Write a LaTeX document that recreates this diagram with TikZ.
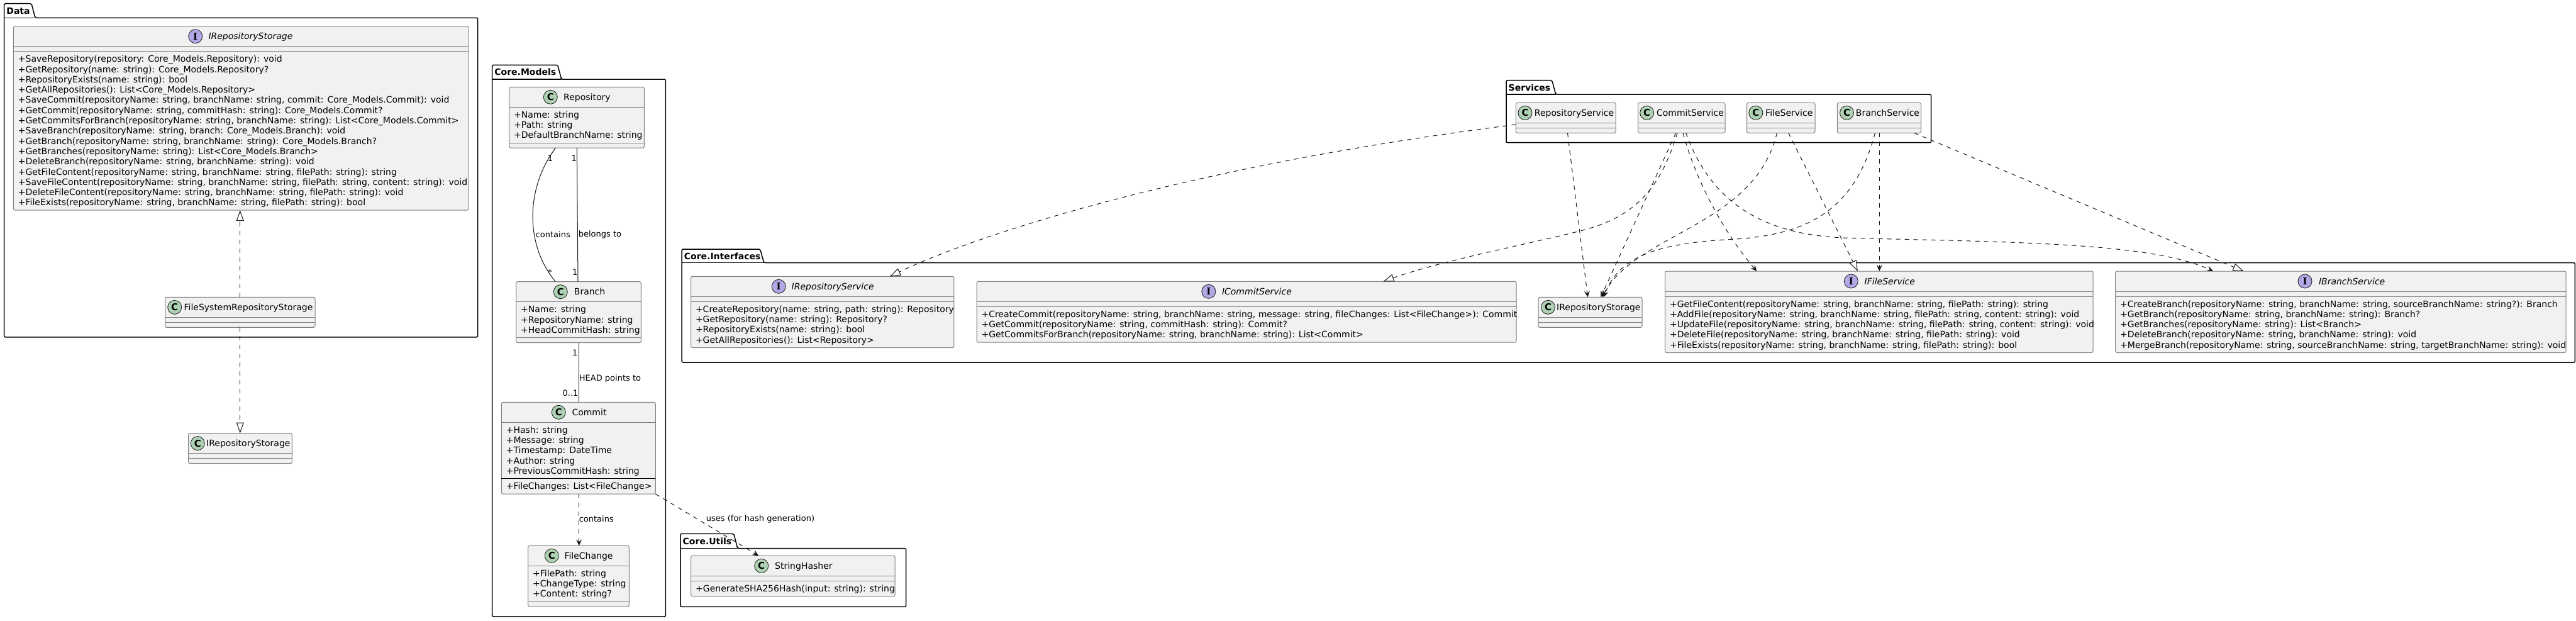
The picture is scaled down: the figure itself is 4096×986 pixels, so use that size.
\documentclass[tikz,border=0pt]{standalone}
\usepackage{fontspec}
\setmainfont{DejaVu Sans}
\newfontfamily\iconserif{DejaVu Serif}
\usetikzlibrary{arrows.meta}
\definecolor{boxfill}{HTML}{F1F1F1}
\definecolor{boxline}{HTML}{808080}
\definecolor{lc}{HTML}{181818}
\definecolor{cgreen}{HTML}{ADD1B2}
\definecolor{ipurple}{HTML}{B4A7E5}
\newcommand\memfont{\fontsize{14}{16.3}\selectfont}
\newcommand\lblfont{\fontsize{13}{15}\selectfont}
\newcommand\pkgfont{\fontsize{14}{16}\selectfont\bfseries}
\newcommand\ttlfont{\fontsize{14}{16}\selectfont}
\newcommand\cfont{\fontsize{15}{15}\selectfont\bfseries}
\newcommand\ifont{\fontsize{15}{15}\selectfont\iconserif\bfseries}
\tikzset{
  umlbox/.style={draw=boxline, fill=boxfill, line width=1pt, rounded corners=2.5pt, anchor=north west, inner sep=0pt, outer sep=0pt},
  sepline/.style={draw=boxline, line width=1pt},
  darksep/.style={draw=black, line width=1pt},
  pkgframe/.style={draw=black, line width=1.5pt, rounded corners=2pt},
  mem/.style={anchor=base west, inner sep=0pt, font=\memfont},
  ttl/.style={anchor=base west, inner sep=0pt, font=\ttlfont},
  cicon/.style={circle, draw=lc, fill=cgreen, minimum size=22pt, inner sep=0pt, line width=0.8pt, font=\cfont},
  iicon/.style={cicon, fill=ipurple, font=\ifont},
  dep/.style={draw=lc, line width=1pt, dash pattern=on 7pt off 7pt, -{Stealth[length=10pt,width=9pt,inset=4pt]}},
  real/.style={draw=lc, line width=1pt, dash pattern=on 7pt off 7pt, -{Triangle[open,length=17pt,width=12pt,fill=white]}},
  assoc/.style={draw=lc, line width=1pt},
  lbl/.style={font=\lblfont, inner sep=0pt, text=black},
  pkglbl/.style={font=\pkgfont, anchor=west, inner sep=0pt},
}
\newcommand\mkbox[5]{\node[umlbox, minimum width=#4pt, minimum height=#5pt] (#1) at (#2,#3) {};}
\newcommand\hsep[2]{\draw[sepline] ([yshift=-#2pt]#1.north west) -- ([yshift=-#2pt]#1.north east);}
\newcommand\ctitle[7]{\node[#2] (#1-ic) at (#4,#6) {#3};\node[ttl] (#1-tt) at (#5,{#6+5}) {#7};}
\newcommand\membs[4]{\foreach \mline [count=\mcount from 0] in {#4} {\node[mem] (#1-m\mcount) at (#2,{#3+16.3*\mcount}) {\mline};}}
\newcommand\pkg[8]{%
  \draw[pkgframe] (#1,#6) -- (#1,#2) -- ({#3-6},#2) -- (#3,#4) -- (#5,#4) -- (#5,#6) -- cycle;
  \draw[draw=black, line width=1.5pt] (#1,#4) -- (#3,#4);
  \node[pkglbl] (#8) at ({#1+3.5},{(#2+#4)/2}) {#7};}
\begin{document}
\begin{tikzpicture}[x=1pt,y=-1pt]
\useasboundingbox (0,0) rectangle (4096,986);
\fill[white] (0,0) rectangle (4096,986);

% ---------- packages
\pkg{6.7}{5.7}{56}{28.3}{759.7}{535.8}{Data}{pkData}
\pkg{782.7}{103.3}{892.7}{126}{1058.3}{980}{Core.Models}{pkModels}
\pkg{1082}{848.3}{1172.8}{871.7}{1440.6}{964.3}{Core.Utils}{pkUtils}
\pkg{2395}{127.7}{2473.7}{150}{3070.5}{226.7}{Services}{pkServices}
\pkg{1084.2}{396}{1214.7}{417.7}{4094.4}{576}{Core.Interfaces}{pkIfaces}

% ---------- Data
\mkbox{dirs}{21.4}{41.7}{723.6}{292.5}
\hsep{dirs}{32}\hsep{dirs}{40}
\ctitle{dirs}{iicon}{I}{310.7}{331.3}{57.7}{\itshape IRepositoryStorage}
\membs{dirs}{28.7}{98.7}{{+SaveRepository(repository: Core\_Models.Repository): void},
{+GetRepository(name: string): Core\_Models.Repository?},
{+RepositoryExists(name: string): bool},
{+GetAllRepositories(): List<Core\_Models.Repository>},
{+SaveCommit(repositoryName: string, branchName: string, commit: Core\_Models.Commit): void},
{+GetCommit(repositoryName: string, commitHash: string): Core\_Models.Commit?},
{+GetCommitsForBranch(repositoryName: string, branchName: string): List<Core\_Models.Commit>},
{+SaveBranch(repositoryName: string, branch: Core\_Models.Branch): void},
{+GetBranch(repositoryName: string, branchName: string): Core\_Models.Branch?},
{+GetBranches(repositoryName: string): List<Core\_Models.Branch>},
{+DeleteBranch(repositoryName: string, branchName: string): void},
{+GetFileContent(repositoryName: string, branchName: string, filePath: string): string},
{+SaveFileContent(repositoryName: string, branchName: string, filePath: string, content: string): void},
{+DeleteFileContent(repositoryName: string, branchName: string, filePath: string): void},
{+FileExists(repositoryName: string, branchName: string, filePath: string): bool}}

\mkbox{fsrs}{262.5}{472.4}{238.5}{48}
\hsep{fsrs}{32}\hsep{fsrs}{40}
\ctitle{fsrs}{cicon}{C}{277.7}{292.4}{488.4}{FileSystemRepositoryStorage}

\mkbox{dirsc}{299.6}{688.6}{164.7}{48}
\hsep{dirsc}{32}\hsep{dirsc}{40}
\ctitle{dirsc}{cicon}{C}{314.3}{328}{704.6}{IRepositoryStorage}

% ---------- Core.Models
\mkbox{repo}{809.7}{138.3}{214.6}{96.9}
\hsep{repo}{32}\hsep{repo}{88.9}
\ctitle{repo}{cicon}{C}{875.3}{896}{154.3}{Repository}
\membs{repo}{817}{187.3}{{+Name: string},{+Path: string},{+DefaultBranchName: string}}

\mkbox{branch}{820.7}{447.7}{198.6}{96.9}
\hsep{branch}{32}\hsep{branch}{88.9}
\ctitle{branch}{cicon}{C}{891.3}{912.7}{463.7}{Branch}
\membs{branch}{828}{496.7}{{+Name: string},{+RepositoryName: string},{+HeadCommitHash: string}}

\mkbox{commit}{797.3}{639.3}{245}{145.8}
\hsep{commit}{32}
\draw[darksep] ([yshift=-121.5pt]commit.north west) -- ([yshift=-121.5pt]commit.north east);
\ctitle{commit}{cicon}{C}{888.3}{909.3}{655.3}{Commit}
\membs{commit}{804.6}{688.3}{{+Hash: string},{+Message: string},{+Timestamp: DateTime},{+Author: string},{+PreviousCommitHash: string}}
\membs{commitm}{804.6}{777.8}{{+FileChanges: List<FileChange>}}

\mkbox{fchange}{839.7}{867.3}{160.6}{96.9}
\hsep{fchange}{32}\hsep{fchange}{88.9}
\ctitle{fchange}{cicon}{C}{877.3}{897.3}{883.3}{FileChange}
\membs{fchange}{847}{916.3}{{+FilePath: string},{+ChangeType: string},{+Content: string?}}

% ---------- Core.Utils
\mkbox{hasher}{1098.7}{883.3}{324.5}{64.3}
\hsep{hasher}{32}\hsep{hasher}{40}
\ctitle{hasher}{cicon}{C}{1210.7}{1232}{899.3}{StringHasher}
\membs{hasher}{1106}{940.3}{{+GenerateSHA256Hash(input: string): string}}

% ---------- Services
\mkbox{rs}{2410.3}{163.3}{158.9}{48}
\hsep{rs}{32}\hsep{rs}{40}
\ctitle{rs}{cicon}{C}{2425}{2439.7}{179.3}{RepositoryService}
\mkbox{cs}{2604.5}{163.3}{138.7}{48}
\hsep{cs}{32}\hsep{cs}{40}
\ctitle{cs}{cicon}{C}{2618.7}{2633.9}{179.3}{CommitService}
\mkbox{fs}{2777.6}{163.3}{108.4}{48}
\hsep{fs}{32}\hsep{fs}{40}
\ctitle{fs}{cicon}{C}{2791.8}{2807}{179.3}{FileService}
\mkbox{bs}{2921.3}{163.3}{133.2}{48}
\hsep{bs}{32}\hsep{bs}{40}
\ctitle{bs}{cicon}{C}{2936.5}{2950.7}{179.3}{BranchService}

% ---------- Core.Interfaces
\mkbox{irsvc}{1098.5}{439.3}{418.4}{113.2}
\hsep{irsvc}{32}\hsep{irsvc}{40}
\ctitle{irsvc}{iicon}{I}{1238.2}{1258.5}{455.3}{\itshape IRepositoryService}
\membs{irsvc}{1105.8}{496.3}{{+CreateRepository(name: string, path: string): Repository},
{+GetRepository(name: string): Repository?},
{+RepositoryExists(name: string): bool},
{+GetAllRepositories(): List<Repository>}}

\mkbox{icsvc}{1553}{447.3}{858}{96.9}
\hsep{icsvc}{32}\hsep{icsvc}{40}
\ctitle{icsvc}{iicon}{I}{1921.8}{1942.8}{463.3}{\itshape ICommitService}
\membs{icsvc}{1560.3}{504.3}{{+CreateCommit(repositoryName: string, branchName: string, message: string, fileChanges: List<FileChange>): Commit},
{+GetCommit(repositoryName: string, commitHash: string): Commit?},
{+GetCommitsForBranch(repositoryName: string, branchName: string): List<Commit>}}

\mkbox{irs2}{2446}{472.3}{165}{48}
\hsep{irs2}{32}\hsep{irs2}{40}
\ctitle{irs2}{cicon}{C}{2461.5}{2475}{488.3}{IRepositoryStorage}

\mkbox{ifsvc}{2647.5}{431}{680.5}{129.5}
\hsep{ifsvc}{32}\hsep{ifsvc}{40}
\ctitle{ifsvc}{iicon}{I}{2943.3}{2964.5}{447}{\itshape IFileService}
\membs{ifsvc}{2654.8}{488}{{+GetFileContent(repositoryName: string, branchName: string, filePath: string): string},
{+AddFile(repositoryName: string, branchName: string, filePath: string, content: string): void},
{+UpdateFile(repositoryName: string, branchName: string, filePath: string, content: string): void},
{+DeleteFile(repositoryName: string, branchName: string, filePath: string): void},
{+FileExists(repositoryName: string, branchName: string, filePath: string): bool}}

\mkbox{ibsvc}{3363.7}{431}{716.5}{129.5}
\hsep{ibsvc}{32}\hsep{ibsvc}{40}
\ctitle{ibsvc}{iicon}{I}{3665}{3686.8}{447}{\itshape IBranchService}
\membs{ibsvc}{3371}{488}{{+CreateBranch(repositoryName: string, branchName: string, sourceBranchName: string?): Branch},
{+GetBranch(repositoryName: string, branchName: string): Branch?},
{+GetBranches(repositoryName: string): List<Branch>},
{+DeleteBranch(repositoryName: string, branchName: string): void},
{+MergeBranch(repositoryName: string, sourceBranchName: string, targetBranchName: string): void}}

% ---------- connectors: Data
\draw[real] (fsrs.north) -- (fsrs.north |- dirs.south);
\draw[real] (fsrs.south) -- (fsrs.south |- dirsc.north);

% ---------- connectors: Core.Models
\draw[assoc] ([xshift=73.6pt]repo.south west) .. controls (835,300) and (835,390) .. ([xshift=62.6pt]branch.north west);
\draw[assoc] ([xshift=107.6pt]repo.south west) -- ([xshift=98.3pt]branch.north west);
\draw[assoc] ([xshift=99.6pt]branch.south west) -- ([xshift=123pt]commit.north west);
\draw[dep] ([xshift=123.4pt]commit.south west) -- ([xshift=81pt]fchange.north west);
\draw[dep] (commit.south east) -- ([xshift=107.6pt]hasher.north west);

\node[lbl] (lcont1) at (879.3,372.7) {contains};
\node[lbl] (lbelong) at (954,372.7) {belongs to};
\node[lbl] (m1) at (875,251.7) {1};
\node[lbl] (m2) at (912.7,251.7) {1};
\node[lbl] (m3) at (874.3,433) {*};
\node[lbl] (m4) at (914.3,432.3) {1};
\node[lbl] (m5) at (914.3,560.7) {1};
\node[lbl] (m6) at (907,624.3) {0..1};
\node[lbl] (lhead) at (970,601.7) {HEAD points to};
\node[lbl] (lcont2) at (948.3,824.3) {contains};
\node[lbl] (luses) at (1209,825) {uses (for hash generation)};

% ---------- connectors: Services -> Interfaces
\draw[real] ([yshift=-34.7pt]rs.north west) .. controls (1900,262) and (1560,370) .. ([xshift=316.5pt]irsvc.north west);
\draw[dep] ([xshift=82.2pt]rs.south west) -- ([xshift=78.6pt]irs2.north west);
\draw[dep] ([xshift=60.2pt]cs.south west) -- ([xshift=99.3pt]irs2.north west);
\draw[dep] ([xshift=47.8pt]fs.south west) .. controls (2790,360) and (2600,370) .. ([xshift=101.6pt]irs2.north west);
\draw[dep] ([xshift=60.2pt]bs.south west) .. controls (2950,330) and (2880,372) .. (2760,380) .. controls (2640,386) and (2575,405) .. ([xshift=103.9pt]irs2.north west);
\draw[real] ([xshift=62.5pt]cs.south west) .. controls (2640,300) and (2600,345) .. (2513,367) .. controls (2420,390) and (2290,415) .. ([xshift=646.5pt]icsvc.north west);
\draw[dep] ([xshift=71.6pt]cs.south west) .. controls (2700,300) and (2750,380) .. ([xshift=145.7pt]ifsvc.north west);
\draw[dep] ([xshift=76.2pt]cs.south west) .. controls (2720,320) and (2800,372) .. (2931,378) .. controls (3200,385) and (3420,385) .. ([xshift=155.3pt]ibsvc.north west);
\draw[real] ([xshift=66.1pt]fs.south west) -- ([xshift=306.4pt]ifsvc.north west);
\draw[dep] ([xshift=67pt]bs.south west) -- ([xshift=340.8pt]ifsvc.north west);
\draw[real] ([xshift=122.2pt]bs.south west) -- ([xshift=203.8pt]ibsvc.north west);
\end{tikzpicture}
\end{document}
